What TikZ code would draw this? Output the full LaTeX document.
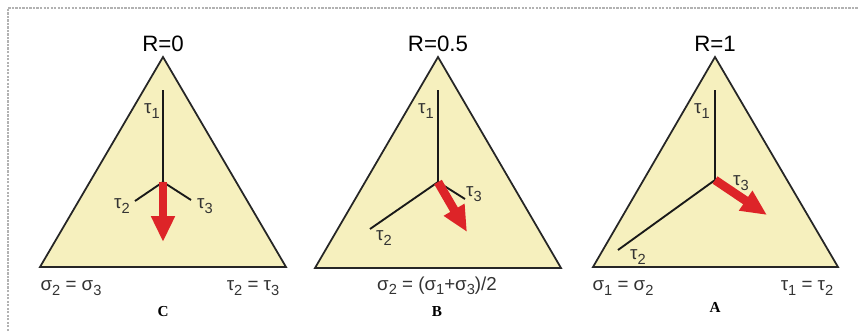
\documentclass[tikz,border=0pt]{standalone}
\usepackage{fontspec}
\setmainfont{Liberation Sans}
\newfontfamily\casefont{Liberation Serif}
\usetikzlibrary{arrows.meta}

\definecolor{planefill}{RGB}{246,240,190}
\definecolor{slipred}{RGB}{221,36,40}
\newcommand{\lowsub}[1]{\raisebox{-0.45ex}{\fontsize{12.5}{13}\selectfont #1}}
\newcommand{\taux}[1]{τ\lowsub{#1}}
\newcommand{\sigx}[1]{σ\lowsub{#1}}

\tikzset{
  face/.style={draw=black!85, line width=1.5pt, fill=planefill, line join=miter},
  axis/.style={draw=black!90, line width=1.6pt},
  slipvec/.style={draw=slipred, line width=7.5pt, -{Triangle[length=22pt,width=19pt]}},
  lbl/.style={font=\fontsize{16}{17}\selectfont, text=black!80, inner sep=0pt},
  ratio/.style={font=\fontsize{19}{20}\selectfont, inner sep=0pt},
  case/.style={font=\casefont\bfseries\fontsize{13}{14}\selectfont, inner sep=0pt},
}

\begin{document}
\begin{tikzpicture}[x=0.03cm, y=-0.03cm]
  \useasboundingbox (0,0) rectangle (858,331);
  % frame
  \draw[gray!60, line width=2pt, densely dotted] (8,331) -- (8,8) -- (858,8);

  % R = 0  (case C)
  \coordinate (c-top) at (163,57);
  \coordinate (c-left) at (40,267);
  \coordinate (c-right) at (286,267);
  \coordinate (c-o) at (163,182);
  \coordinate (c-t1) at (163,90);
  \coordinate (c-t2) at (135,201);
  \coordinate (c-t3) at (191,200);
  \coordinate (c-s) at (163,242);
  \draw[face] (c-top) -- (c-left) -- (c-right) -- cycle;
  \draw[axis] (c-t1) -- (c-o) -- (c-t2);
  \draw[axis] (c-o) -- (c-t3);
  \draw[slipvec] (c-o) -- (c-s);
  \node[ratio] (c-r) at (163,44) {R=0};
  \node[lbl] (c-l1) at (152,111) {\taux{1}};
  \node[lbl] (c-l2) at (122,206) {\taux{2}};
  \node[lbl] (c-l3) at (205,206) {\taux{3}};
  \node[lbl] (c-bl) at (71,288) {\sigx{2} = \sigx{3}};
  \node[lbl] (c-br) at (253,288) {\taux{2} = \taux{3}};
  \node[case] (c-name) at (163,312) {C};

  % R = 0.5  (case B)
  \coordinate (b-top) at (438,57);
  \coordinate (b-left) at (315,268);
  \coordinate (b-right) at (561,268);
  \coordinate (b-o) at (438,182);
  \coordinate (b-t1) at (438,90);
  \coordinate (b-t2) at (370,229);
  \coordinate (b-t3) at (465,199);
  \coordinate (b-s) at (467,232);
  \draw[face] (b-top) -- (b-left) -- (b-right) -- cycle;
  \draw[axis] (b-t1) -- (b-o) -- (b-t2);
  \draw[axis] (b-o) -- (b-t3);
  \draw[slipvec] (b-o) -- (b-s);
  \node[ratio] (b-r) at (438,44) {R=0.5};
  \node[lbl] (b-l1) at (426,111) {\taux{1}};
  \node[lbl] (b-l2) at (384,238) {\taux{2}};
  \node[lbl] (b-l3) at (474,194) {\taux{3}};
  \node[lbl] (b-b) at (437,286) {\sigx{2} = (\sigx{1}+\sigx{3})/2};
  \node[case] (b-name) at (437,312) {B};

  % R = 1  (case A)
  \coordinate (a-top) at (715,57);
  \coordinate (a-left) at (593,267);
  \coordinate (a-right) at (838,267);
  \coordinate (a-o) at (715,180);
  \coordinate (a-t1) at (715,90);
  \coordinate (a-t2) at (618,250);
  \coordinate (a-s) at (767,215);
  \draw[face] (a-top) -- (a-left) -- (a-right) -- cycle;
  \draw[axis] (a-t1) -- (a-o) -- (a-t2);
  \draw[slipvec] (a-o) -- (a-s);
  \node[ratio] (a-r) at (715,44) {R=1};
  \node[lbl] (a-l1) at (702,111) {\taux{1}};
  \node[lbl] (a-l2) at (638,257) {\taux{2}};
  \node[lbl] (a-l3) at (741,183) {\taux{3}};
  \node[lbl] (a-bl) at (623,288) {\sigx{1} = \sigx{2}};
  \node[lbl] (a-br) at (807,288) {\taux{1} = \taux{2}};
  \node[case] (a-name) at (715,307) {A};
\end{tikzpicture}
\end{document}
